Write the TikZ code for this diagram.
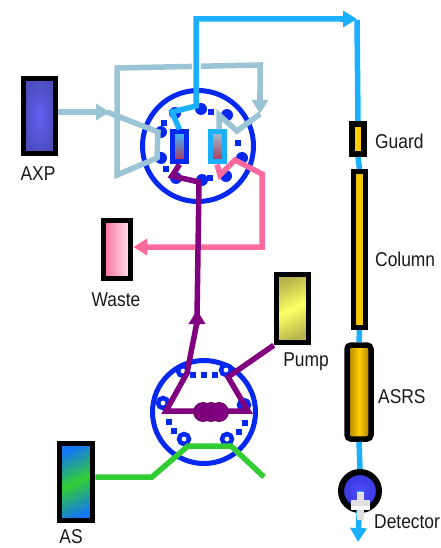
\documentclass[tikz,border=0pt]{standalone}
\usepackage{fontspec}
\setmainfont[FakeStretch=0.87]{Liberation Sans}
\usetikzlibrary{arrows.meta}
\definecolor{valveBlue}{RGB}{5, 40, 240}
\definecolor{eluentBlue}{RGB}{26, 176, 255}
\definecolor{loopGrey}{RGB}{155, 196, 212}
\definecolor{wastePink}{RGB}{255, 106, 158}
\definecolor{pumpPurple}{RGB}{128, 0, 128}
\definecolor{sampleGreen}{RGB}{50, 205, 50}
\definecolor{goldDark}{RGB}{165, 120, 0}
\definecolor{goldLight}{RGB}{255, 204, 0}
\definecolor{mauve}{RGB}{175, 50, 85}
\definecolor{pumpDark}{RGB}{185, 180, 75}
\definecolor{pumpLight}{RGB}{255, 255, 100}
\definecolor{asBlue}{RGB}{20, 120, 240}
\tikzset{
  valve/.style={circle, draw=valveBlue, line width=5pt, minimum size=#1, inner sep=0pt},
  port/.style={circle, draw=valveBlue, fill=white, line width=4.5pt, minimum size=10pt, inner sep=0pt},
  topport/.style={circle, fill=valveBlue, minimum size=12pt, inner sep=0pt},
  peg/.style={fill=valveBlue, minimum size=5.5pt, inner sep=0pt},
  unit/.style={draw=black, line width=5.5pt, inner sep=0pt},
  slot/.style={line width=5pt, minimum width=14pt, minimum height=30pt, inner sep=0pt,
    top color=#1, bottom color=mauve},
  pipe/.style={line width=5.5pt, line join=miter},
  head/.style={-{Triangle[length=14pt,width=16pt]}},
  label/.style={font=\fontsize{20}{20}\selectfont, text=black!90, inner sep=0pt}
}
\begin{document}
\begin{tikzpicture}[x=1pt,y=-1pt]
  \useasboundingbox (0,0) rectangle (440,548);

  % injection valve
  \node[valve=111pt] (topValve) at (198,146) {};
  \foreach \n/\x/\y in {a/201/109,b/175/113,c/227/115,d/161/132,e/161/158,f/242/158,g/176/178,h/202/180,i/226/176}
    \node[topport] (top\n) at (\x,\y) {};
  \foreach \x/\y in {164/123,211/112,166/169,210/178,238/143}
    \node[peg] at (\x,\y) {};

  % sample valve
  \node[valve=103pt] (lowValve) at (204,412) {};
  \foreach \n/\x/\y in {a/183/371,b/226/370,c/163/403,d/244/405,e/184/439,f/227/439}
    \node[port] (low\n) at (\x,\y) {};
  \foreach \x/\y in {193/375,204/375,215/375,169/422,174/431,245/423,239/432}
    \node[peg] at (\x,\y) {};

  % units
  \node[unit, minimum width=32pt, minimum height=75pt, inner color=blue!60!white!95!black, outer color=blue!60!white!75!black] (axp) at (39.5,116) {};
  \node[unit, minimum width=27pt, minimum height=58pt, left color=wastePink, right color=wastePink!15] (waste) at (117,249.5) {};
  \node[unit, minimum width=32pt, minimum height=68pt, top color=pumpDark, bottom color=pumpDark, middle color=pumpLight, shading angle=25] (pump) at (292.5,308.5) {};
  \node[unit, minimum width=33pt, minimum height=77pt, top color=asBlue, bottom color=asBlue, middle color=sampleGreen, shading angle=25] (as) at (76,482) {};
  \node[unit, line width=6pt, minimum width=12pt, minimum height=30pt, fill=goldLight] (guard) at (358,139) {};
  \node[unit, line width=5pt, minimum width=12pt, minimum height=156pt, left color=goldLight!90!black, right color=goldLight!90!black, middle color=goldLight] (column) at (359.5,249.5) {};
  \node[unit, rounded corners=4pt, minimum width=24pt, minimum height=94pt, left color=goldDark, right color=goldDark, middle color=goldLight] (asrs) at (359,392) {};
  \node[circle, draw=black, line width=6pt, minimum size=38pt, inner sep=0pt, inner color=blue!70!white, outer color=blue!75!white!85!black] (detector) at (360,491) {};

  % switching slots
  \node[slot=eluentBlue!85!white, draw=valveBlue] (slotL) at (179.5,147) {};
  \node[slot=loopGrey, draw=eluentBlue] (slotR) at (217,147) {};

  \coordinate (bendLoopA) at (107,112);
  \coordinate (bendLoopB) at (158,132);
  \coordinate (bendLoopC) at (157,158);
  \coordinate (bendLoopD) at (117,175);
  \coordinate (bendLoopE) at (117,68);
  \coordinate (bendLoopF) at (260,65);
  \coordinate (bendLoopG) at (260,114);
  \coordinate (bendLoopH) at (237,131);
  \coordinate (bendLoopI) at (219,115);
  \coordinate (bendBlueA) at (196,19);
  \coordinate (bendBlueB) at (196,106);
  \coordinate (bendBlueC) at (172,112);
  \coordinate (bendBlueD) at (357,20);
  \coordinate (gapTop) at (196,60);
  \coordinate (gapLow) at (196,75);
  \coordinate (outlet) at (358,542);

  % loop
  \draw[pipe, loopGrey, head] (axp.east |- bendLoopA) -- (110,112);
  \draw[pipe, loopGrey] (bendLoopA) -- (bendLoopB) -- (bendLoopC) -- (bendLoopD) -- (bendLoopE) -- (bendLoopF) -- (260,100);
  \draw[pipe, loopGrey, head] (260,90) -- (bendLoopG);
  \draw[pipe, loopGrey] (bendLoopG) -- (bendLoopH) -- (bendLoopI) -- (slotR.north -| bendLoopI);
  \draw[line width=9pt, white] (gapTop) -- (gapLow);

  % eluent line
  \draw[pipe, eluentBlue] (slotL.north) -- (bendBlueC) -- (bendBlueB) -- (bendBlueA) -- (345,19);
  \draw[pipe, eluentBlue, head] (340,19) -- (357,19);
  \draw[pipe, eluentBlue] (bendBlueD) -- (guard.north);
  \draw[pipe, eluentBlue] (guard.south) -- (column.north);
  \draw[pipe, eluentBlue] (column.south) -- (asrs.north);
  \draw[pipe, eluentBlue] (asrs.south) -- (detector.north);
  \draw[pipe, eluentBlue, head] (detector.center) -- (outlet);

  % waste line
  \coordinate (bendPinkA) at (262,247);
  \coordinate (bendPinkB) at (262,174);
  \coordinate (bendPinkC) at (235,160);
  \coordinate (bendPinkD) at (220,175);
  \draw[pipe, wastePink, head] (slotR.south) -- (bendPinkD) -- (bendPinkC) -- (bendPinkB) -- (bendPinkA) -- (waste.east |- bendPinkA);

  % pump line
  \coordinate (bendPurpA) at (172,176);
  \coordinate (bendPurpB) at (199,182);
  \coordinate (bendPurpC) at (197,310);
  \coordinate (bendPurpD) at (187,373);
  \coordinate (bendPurpE) at (166,411);
  \coordinate (bendPurpF) at (248,411);
  \coordinate (bendPurpG) at (228,377);
  \draw[pipe, pumpPurple] (slotL.south) -- (bendPurpA) -- (bendPurpB) -- (197,318);
  \draw[pipe, pumpPurple, head] (197,325) -- (bendPurpC);
  \draw[pipe, pumpPurple] (197,322) -- (bendPurpD) -- (bendPurpE) -- (bendPurpF) -- (bendPurpG) -- (pump.south west);
  \foreach \x in {203,211,219}
    \draw[fill=pumpPurple, draw=pumpPurple!80!black, line width=.8pt] (\x,412) ellipse (9.5 and 9.5);

  % sample line
  \coordinate (bendGreenA) at (152,477);
  \coordinate (bendGreenB) at (188,446);
  \coordinate (bendGreenC) at (231,446);
  \coordinate (greenEnd) at (264,477);
  \draw[pipe, sampleGreen] (as.east |- bendGreenA) -- (bendGreenA) -- (bendGreenB) -- (bendGreenC) -- (greenEnd);

  % detector cross
  \fill[black!12] (357,492) rectangle (364,520);
  \fill[black!12] (351,500) rectangle (370,506);
  \fill[white] (351,506) rectangle (370,510);

  \node[label] at (38,174) {AXP};
  \node[label] at (116,300) {Waste};
  \node[label] at (306,362) {Pump};
  \node[label] at (71,537) {AS};
  \node[label, anchor=west] at (375,141) {Guard};
  \node[label, anchor=west] at (375,259) {Column};
  \node[label, anchor=west] at (378,397) {ASRS};
  \node[label, anchor=west] at (374,522) {Detector};
\end{tikzpicture}
\end{document}
